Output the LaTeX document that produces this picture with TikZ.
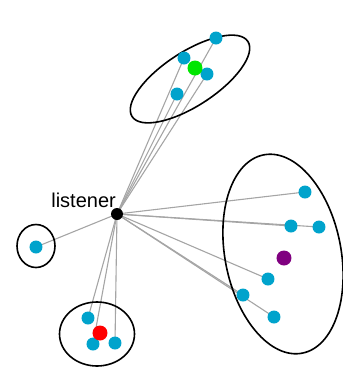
\documentclass[tikz,border=0pt]{standalone}
\usepackage{fontspec}
\setmainfont{Liberation Sans}
\definecolor{dotcyan}{RGB}{0,163,204}
\definecolor{dotgreen}{RGB}{0,230,0}
\definecolor{dotpurple}{RGB}{128,0,128}
\definecolor{dotred}{RGB}{255,0,0}
\definecolor{linkgray}{RGB}{165,165,165}
\pgfdeclarelayer{bg}
\pgfsetlayers{bg,main}
\begin{document}
\begin{tikzpicture}[x=1pt,y=-1pt,
  dot/.style={circle,fill=dotcyan,inner sep=0pt,minimum size=13pt},
  bigdot/.style={circle,inner sep=0pt,minimum size=15pt},
  link/.style={draw=linkgray,line width=1.1pt},
  group/.style={draw=black,line width=1.6pt}]
\useasboundingbox (0,0) rectangle (343,368);
% groups
\draw[group,rotate around={33:(190,79)}] (190,79) ellipse (69 and 27);
\draw[group,rotate around={-79:(283,254)}] (283,254) ellipse (101 and 58);
\draw[group] (36,246) ellipse (19 and 21.5);
\draw[group] (97,334) ellipse (37.5 and 32);
% nodes
\node[circle,fill=black,inner sep=0pt,minimum size=12pt] (lis) at (117,214) {};
\node[dot] (t1) at (216,38) {};
\node[dot] (t2) at (184,58) {};
\node[dot] (t3) at (207,74) {};
\node[dot] (t4) at (177,94) {};
\node[dot] (r1) at (305,192) {};
\node[dot] (r2) at (291,226) {};
\node[dot] (r3) at (319,227) {};
\node[dot] (r4) at (268,279) {};
\node[dot] (r5) at (243,295) {};
\node[dot] (r6) at (274,317) {};
\node[dot] (s1) at (36,247) {};
\node[dot] (b1) at (88,318) {};
\node[dot] (b2) at (93,344) {};
\node[dot] (b3) at (115,343) {};
\node[bigdot,fill=dotgreen] (g) at (195,68) {};
\node[bigdot,fill=dotpurple] (p) at (284,258) {};
\node[bigdot,fill=dotred] (rd) at (100,333) {};
\node[anchor=base east,inner sep=0pt,font=\fontsize{20}{24}\selectfont] (lab) at (116,207) {listener};
% links
\begin{pgfonlayer}{bg}
\foreach \n in {t1,t2,t3,t4,r1,r2,r3,r4,r5,r6,s1,b1,b2,b3}
  \draw[link] (lis.center) -- (\n.center);
\end{pgfonlayer}
\end{tikzpicture}
\end{document}
